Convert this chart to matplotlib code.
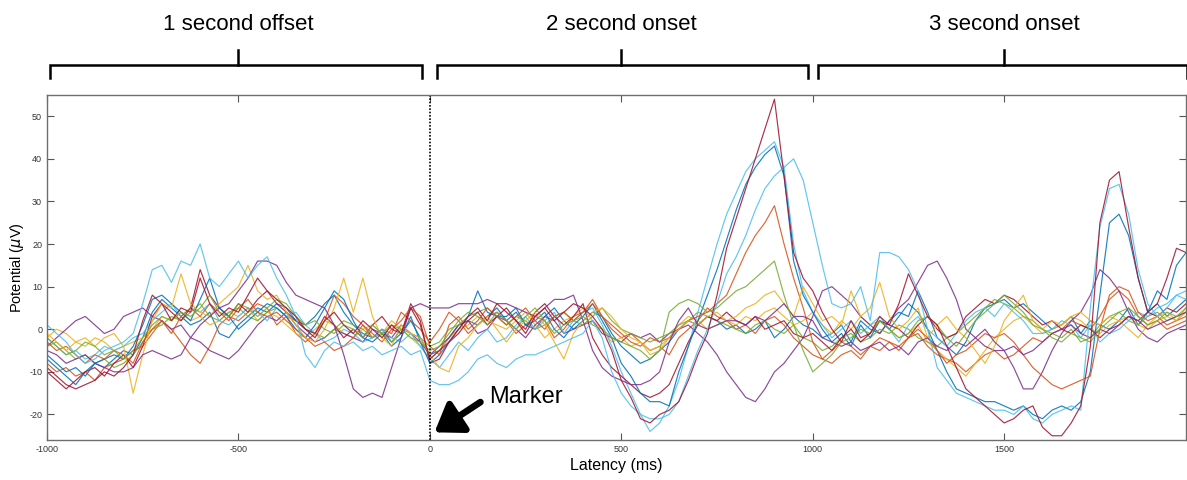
import numpy as np
import matplotlib
matplotlib.use("Agg")
import matplotlib.pyplot as plt
from matplotlib.transforms import blended_transform_factory

plt.rcParams['font.family'] = ['Liberation Sans', 'DejaVu Sans']
plt.rcParams['axes.unicode_minus'] = False

# Sample latencies (ms), one value every 25 ms
latency = np.arange(-1000, 2000, 25)

# Averaged potentials (uV) per channel, 8 samples (200 ms) per row
darkred_a = [
    -9, -11, -13, -14, -13, -12, -10, -11,
    -9, -6, 2, 8, 6, 2, 5, 4,
    12, 6, 3, 5, 4, 8, 12, 9,
    7, 5, 3, 0, -2, 2, 4, 1,
    -1, 2, 0, -2, 1, -1, 5, 1,
    -7, -5, -3, 0, 3, 5, 2, 6,
    4, 2, -1, 3, 5, 2, 4, 6,
    5, 3, 0, -5, -12, -16, -21, -22,
    -20, -19, -17, -12, -6, -1, 8, 19,
    26, 33, 40, 47, 54, 36, 18, 12,
    9, 4, 0, -3, 2, -2, -1, 3,
    1, 6, 13, 8, 3, 1, -4, -9,
    -14, -16, -18, -20, -22, -21, -19, -18,
    -23, -25, -25, -22, -18, -4, 25, 35,
    37, 24, 12, 4, 6, 12, 19, 18,
]
lightblue_a = [
    -2, -4, -6, -5, -7, -6, -4, -5,
    -4, -2, -1, 2, 4, 6, 3, 5,
    4, 6, 2, 1, 3, 5, 4, 2,
    5, 3, 4, 1, -1, -3, -2, 0,
    -1, -3, -2, 0, -2, -3, -1, -4,
    -7, -9, -6, -3, -5, -2, 0, -3,
    -2, 1, 3, 0, 2, 4, -1, 2,
    4, 5, 1, -4, -10, -15, -20, -24,
    -22, -18, -12, -4, 4, 12, 20, 27,
    32, 37, 40, 42, 44, 38, 20, 9,
    4, 1, -2, 0, 2, -1, 1, 3,
    0, -3, 1, 3, 0, -2, -4, -1,
    2, 4, 5, 3, 6, 4, 2, -1,
    -1, 0, 2, 1, -2, 1, -3, -1,
    0, 2, 4, 3, 5, 6, 8, 7,
]
lightblue_b = [
    1, -1, -3, -6, -8, -7, -5, -4,
    -3, -1, 6, 14, 15, 11, 16, 15,
    20, 12, 10, 13, 16, 12, 15, 17,
    12, 8, 3, -6, -9, -5, -3, -4,
    -3, -5, -4, -6, -5, -4, -6, -5,
    -12, -13, -13, -12, -10, -7, -6, -8,
    -9, -7, -6, -6, -5, -4, -3, -2,
    -1, 2, -2, -10, -15, -18, -20, -21,
    -21, -20, -17, -11, -5, 0, 6, 13,
    17, 22, 28, 33, 36, 38, 40, 35,
    25, 15, 6, 5, 6, 10, 2, 18,
    18, 17, 14, 9, 0, -9, -12, -15,
    -16, -17, -18, -19, -19, -20, -18, -21,
    -22, -20, -19, -18, -19, 5, 24, 33,
    34, 27, 14, 6, 3, 5, 8, 9,
]
blue_a = [
    -6, -8, -10, -9, -11, -8, -7, -6,
    -7, -4, 1, 7, 8, 6, 4, 2,
    7, 12, 5, 3, 0, 2, 4, 6,
    5, 3, 0, -2, 1, 5, 9, 7,
    2, -2, -3, -1, -4, -2, 3, -3,
    -8, -6, -3, 0, 3, 9, 4, 3,
    3, 5, 1, 2, 4, 0, -2, 1,
    3, 6, 2, -2, -8, -11, -15, -17,
    -17, -18, -10, -4, 2, 8, 14, 21,
    28, 34, 38, 41, 43, 36, 16, 8,
    4, 0, -3, -1, -4, 1, -2, 2,
    0, 3, 6, 4, 0, -5, -10, -14,
    -15, -16, -17, -17, -18, -19, -18, -20,
    -21, -19, -18, -19, -17, -10, 8, 25,
    27, 22, 12, 4, 9, 7, 15, 18,
]
orange_a = [
    -3, -5, -4, -6, -8, -6, -7, -5,
    -6, -8, -3, 0, 2, -1, 3, 5,
    3, 6, 4, 2, 5, 7, 4, 3,
    4, 2, 0, -2, -4, -3, -5, -4,
    -2, 1, -1, -3, 0, 2, 5, 3,
    -4, -6, 1, 3, 0, 2, 5, 3,
    1, 3, 5, 2, 0, 3, 4, 2,
    4, 6, 3, 1, -1, -3, -4, -2,
    -3, -2, 0, 2, 3, 4, 6, 8,
    13, 18, 22, 25, 29, 20, 12, 5,
    -3, -7, -8, -6, -5, -7, -4, -2,
    -3, -5, -2, 0, -2, -5, -8, -6,
    -5, -3, -1, -2, -1, -3, -6, -9,
    -11, -13, -14, -13, -12, -11, 0, 8,
    10, 9, 4, 2, 3, 1, 2, 3,
]
green_a = [
    -2, -4, -6, -5, -3, -4, -6, -5,
    -7, -5, -2, 1, 3, 2, 4, 3,
    5, 8, 4, 3, 6, 5, 3, 5,
    7, 6, 3, 1, 2, 0, -1, 1,
    0, -2, 1, -1, -3, 0, -2, -3,
    -5, -4, -1, 2, 4, 3, 1, 4,
    2, 0, 3, 5, 2, -1, 1, 2,
    3, 1, 0, -2, -3, -4, -5, -7,
    -5, 4, 6, 7, 6, 4, 5, 7,
    9, 10, 12, 14, 16, 8, 1, -5,
    -10, -8, -6, -3, -2, 0, -1, 2,
    0, -2, -1, 2, 3, 1, -2, -4,
    -1, 2, 4, 6, 8, 6, 4, 1,
    0, -2, -3, -1, -2, -3, 0, 2,
    4, 5, 3, 1, 2, 4, 3, 5,
]
yellow_a = [
    -1, -3, -5, -3, -2, -4, -2, -1,
    -4, -15, -6, 2, 6, 5, 13, 6,
    4, 3, 6, 8, 10, 15, 9, 7,
    8, 4, 1, -2, -3, 0, 5, 12,
    4, 12, 3, -2, -4, 1, -1, -2,
    -6, -9, -10, -4, -2, 1, 3, 0,
    -3, 0, 2, 4, 1, -3, -7, -1,
    2, 4, 5, 3, 0, -2, -3, -5,
    -4, -2, 0, 2, 1, 3, 4, 2,
    3, 5, 6, 8, 9, 6, 3, 10,
    6, 2, 3, 1, 9, 3, 5, 11,
    3, 0, 2, 5, -2, 1, 3, 0,
    -2, -5, -8, -4, 2, 5, 8, 2,
    0, 2, 1, 3, 4, 2, 1, 3,
    2, 0, -2, 1, 3, 4, 2, 5,
]
purple_a = [
    -4, -2, 0, 2, 3, 1, -1, 0,
    3, 4, 5, 3, 2, 0, 1, -2,
    -3, -5, -6, -7, -5, -2, 1, 3,
    2, 4, 1, -1, -3, -2, 0, -1,
    -2, -3, 0, -1, -2, 1, -1, -3,
    -6, -4, -2, 1, 2, -1, 0, 3,
    2, 0, -2, 1, 3, 2, -1, 0,
    1, 2, -1, -2, -3, -1, -2, -1,
    -3, -1, 0, 1, -1, -3, -6, -10,
    -13, -16, -17, -14, -10, -8, -5, -2,
    3, 9, 10, 8, 6, 3, 1, -1,
    2, 5, 7, 11, 15, 16, 12, 7,
    0, -2, -4, -5, -5, -9, -14, -14,
    -10, -5, -1, 2, 4, 8, 14, 12,
    9, 4, 0, -2, -3, -1, 0, 1,
]
purple_b = [
    -5, -6, -8, -7, -6, -8, -9, -10,
    -10, -9, -6, -5, -6, -7, -6, -2,
    1, 3, 5, 6, 9, 12, 16, 16,
    15, 11, 8, 7, 6, 5, 1, -6,
    -14, -16, -15, -16, -9, -2, 5, 6,
    5, 5, 5, 6, 6, 6, 7, 6,
    6, 5, 4, 3, 5, 7, 7, 8,
    2, -5, -9, -11, -12, -13, -13, -12,
    -10, -3, 2, 5, 1, 0, 1, 2,
    2, 1, 3, 2, 4, 6, 3, 3,
    2, -2, -3, -4, -3, -5, -4, -3,
    -5, -4, -6, -3, -2, -4, -5, -3,
    -4, -2, 0, -3, -5, -4, -6, -5,
    -3, -1, 0, 1, -1, -2, 0, -1,
    1, 3, 2, 0, 1, 2, 3, 4,
]
darkred_b = [
    -10, -12, -14, -12, -10, -9, -11, -8,
    -6, -9, -4, 3, 6, 4, 2, 5,
    14, 8, 5, 3, 6, 4, 7, 9,
    6, 4, 2, 0, -1, 3, 1, -2,
    0, -2, 1, 3, 0, -1, 6, 2,
    -8, -7, -3, -1, 2, 4, 1, 3,
    5, 2, 0, 4, 6, 3, 1, 3,
    6, -2, -6, -9, -11, -13, -15, -16,
    -15, -13, -8, -3, 1, 3, 2, 4,
    2, 1, 3, 0, 1, 2, -1, -2,
    -1, -3, -5, -2, 0, -3, -1, 2,
    1, 0, -2, 1, 3, 0, -2, -1,
    3, 5, 7, 6, 8, 7, 5, 3,
    1, 2, 0, -1, 1, 0, -2, 0,
    1, 3, 2, 4, 3, 5, 4, 6,
]
blue_b = [
    -7, -9, -11, -13, -10, -8, -9, -7,
    -5, -6, -2, 4, 7, 5, 3, 1,
    2, 4, -1, -2, 1, 3, 5, 4,
    6, 5, 2, 1, 3, 6, 8, 4,
    1, -1, -2, 0, -3, -1, 2, -2,
    -6, -5, -2, 1, 2, 1, 3, 5,
    2, 4, 1, 0, 3, 5, 2, 0,
    2, 4, 3, -1, -4, -6, -8, -7,
    -5, -3, 0, 2, 1, 3, 2, 0,
    1, -1, 0, 2, -2, 0, 3, 1,
    0, -2, -1, 1, -3, 2, 0, -1,
    2, 4, 3, 9, 4, -2, -4, -6,
    -3, 2, 5, 6, 7, 5, 6, 4,
    2, 0, 1, 3, -1, 2, 1, 0,
    2, 5, 1, 4, 6, 3, 5, 7,
]
orange_b = [
    -8, -10, -9, -11, -10, -12, -9, -8,
    -7, -5, -4, -1, 2, 0, -3, -6,
    -8, -4, 1, 3, 2, 4, 6, 5,
    1, 3, -1, -3, -1, 2, 8, 6,
    3, 1, -2, 0, -1, 4, 2, 0,
    -3, 0, 4, 2, -1, 1, 3, 4,
    2, -1, 1, 3, 2, -2, 0, 3,
    4, 7, 3, 0, -2, -1, -3, -5,
    -4, -6, -2, 0, 2, 5, 3, 2,
    0, 1, -1, 2, 3, 1, -2, -4,
    -6, -7, -5, -3, -4, -6, -4, -5,
    -3, -4, -2, -1, -4, -6, -7, -8,
    -10, -8, -6, -5, -7, -6, -4, -2,
    -3, -1, 0, 2, 1, 0, 3, 7,
    9, 7, 3, 1, 2, 0, 1, 2,
]
green_b = [
    -4, -3, -5, -7, -6, -8, -7, -9,
    -8, -6, -3, 0, 1, 3, 2, 4,
    6, 3, 2, 4, 5, 3, 2, 4,
    5, 3, 2, 0, -1, -2, 0, 2,
    1, 0, -2, -1, 1, 0, -1, -2,
    -4, -3, 0, 1, 3, 4, 5, 3,
    1, 3, 2, 0, 1, 3, 4, 2,
    1, 3, 5, 2, 0, -1, -2, -3,
    -2, -1, 1, 2, 4, 3, 2, 1,
    0, -1, 1, 2, 0, -1, 1, -2,
    -3, -5, -4, -2, -1, -3, -2, 0,
    -1, 1, 0, -2, -3, -4, -2, -1,
    1, 3, 5, 7, 6, 5, 3, 2,
    0, -1, -2, 0, -3, -2, 1, 3,
    4, 2, 1, 3, 4, 2, 3, 4,
]
yellow_b = [
    -2, 0, -1, -3, -4, -2, -3, -5,
    -4, -3, -2, 0, 3, 2, 4, 2,
    3, 1, 2, 4, 3, 5, 2, 4,
    3, 1, -1, -2, 0, 2, 1, -1,
    -2, 0, 1, -1, 2, 0, -2, -4,
    -7, -5, -2, 0, 1, 3, 2, 1,
    0, 2, 4, 1, -2, 0, 2, 3,
    5, 2, 0, -3, -2, -4, -3, -6,
    -5, -2, 1, 3, 2, 0, 1, 2,
    1, 3, 2, 4, 5, 3, 1, 2,
    4, 1, -1, 2, 0, 3, 1, 2,
    0, -2, -1, 1, -3, -5, -7, -9,
    -11, -8, -5, -2, 0, 2, 3, 1,
    -1, 0, 1, 3, 2, 0, -1, 1,
    2, 3, 1, 0, 2, 3, 2, 4,
]

x_ticks = [-1000, -500, 0, 500, 1000, 1500]
y_ticks = [-20, -10, 0, 10, 20, 30, 40, 50]
segments = [("1 second offset", -992, -21, -500),
            ("2 second onset", 18, 987, 500),
            ("3 second onset", 1013, 1977, 1500)]

BLUE, ORANGE, YELLOW = "#0072BD", "#D95319", "#EDB120"
PURPLE, GREEN, LBLUE, DRED = "#7E2F8E", "#77AC30", "#4DBEEE", "#A2142F"

traces = [
    (blue_b, BLUE), (orange_b, ORANGE), (yellow_b, YELLOW), (purple_a, PURPLE),
    (green_b, GREEN), (lightblue_a, LBLUE), (darkred_b, DRED),
    (blue_a, BLUE), (orange_a, ORANGE), (yellow_a, YELLOW), (purple_b, PURPLE),
    (green_a, GREEN), (lightblue_b, LBLUE), (darkred_a, DRED),
]

fig = plt.figure(figsize=(11.87, 4.8), dpi=100)
ax = fig.add_axes([0.0396, 0.0833, 0.9596, 0.719])

for values, color in traces:
    ax.plot(latency, values, color=color, lw=0.85, alpha=0.88)

ax.set_xlim(-1000, 1975)
ax.set_ylim(-26, 55)
ax.set_xticks(x_ticks)
ax.set_yticks(y_ticks)
ax.tick_params(direction="in", length=5, width=0.8, colors="#555555",
               labelcolor="#333333", labelsize=6.5, top=True, right=True)
for sp in ax.spines.values():
    sp.set_color("#6e6e6e")
    sp.set_linewidth(1.0)

ax.axvline(0, color="black", ls=(0, (1, 1)), lw=1.2)

ax.set_xlabel("Latency (ms)", fontsize=11.5, labelpad=3)
ax.set_ylabel(r"Potential ($\mu$V)", fontsize=10.5, labelpad=2)

# Marker arrow and label
ax.annotate("", xy=(12, -24.2), xytext=(132, -17.1),
            arrowprops=dict(arrowstyle="-|>,head_length=0.8,head_width=0.55",
                            mutation_scale=20, color="black", lw=4.8,
                            shrinkA=0, shrinkB=0))
ax.text(155, -15.8, "Marker", fontsize=17, va="center", ha="left", color="black")

# Segment brackets above the axes
tr = blended_transform_factory(ax.transData, fig.transFigure)
y_bar, y_tip, y_mid = 0.865, 0.838, 0.896
for label, x0, x1, xc in segments:
    ax.plot([x0, x0, x1, x1], [y_tip, y_bar, y_bar, y_tip], color="black",
            lw=1.8, transform=tr, clip_on=False, solid_joinstyle="miter")
    ax.plot([xc, xc], [y_bar, y_mid], color="black", lw=1.8,
            transform=tr, clip_on=False)
    ax.text(xc, 0.948, label, fontsize=16, ha="center", va="center",
            transform=tr, color="black")

fig.savefig("out.png", dpi=100)
